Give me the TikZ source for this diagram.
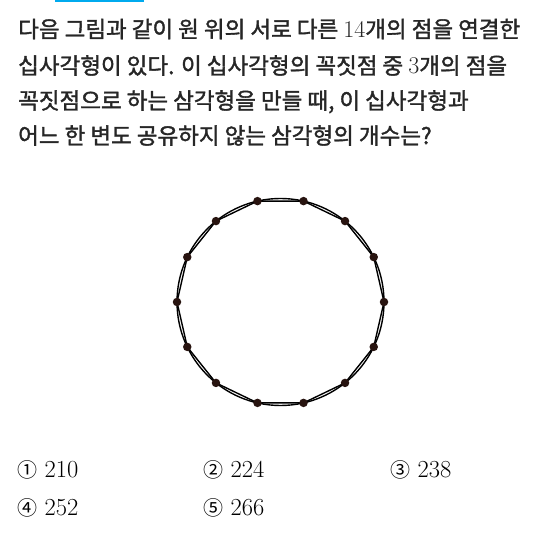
\documentclass[tikz,border=0pt]{standalone}
\usepackage{fontspec}
\usetikzlibrary{calc}
\newfontfamily\kr{Noto Sans CJK KR}
\newfontfamily\krm[FakeBold=1.6]{Noto Sans CJK KR}
\definecolor{barblue}{RGB}{0,170,238}
\definecolor{dotcol}{RGB}{40,20,16}
\tikzset{
  qline/.style={anchor=base west, inner sep=0pt, font=\krm\fontsize{22.5}{22.5}\selectfont, text=black!85},
  choice/.style={anchor=base west, inner sep=0pt, font=\fontsize{24.5}{24.5}\selectfont},
  vdot/.style={circle, fill=dotcol, inner sep=0pt, minimum size=8.5pt},
  edge/.style={line width=1.4pt, black},
}
\newcommand{\cnum}[1]{{\kr\fontsize{20}{20}\selectfont #1}}
\newcommand{\lmnum}[1]{{\rmfamily\mdseries\fontsize{24}{24}\selectfont #1}}
\begin{document}
\begin{tikzpicture}[x=1pt,y=-1pt]
\useasboundingbox (0,0) rectangle (560,537);
\fill[barblue] (55,0) rectangle (144,2.5);
\node[qline] (l1) at (18,37.5) {다음 그림과 같이 원 위의 서로 다른 \lmnum{14}개의 점을 연결한};
\node[qline] (l2) at (18,74) {십사각형이 있다. 이 십사각형의 꼭짓점 중 \lmnum{3}개의 점을};
\node[qline] (l3) at (18,109) {꼭짓점으로 하는 삼각형을 만들 때, 이 십사각형과};
\node[qline] (l4) at (18,144) {어느 한 변도 공유하지 않는 삼각형의 개수는?};
% circle and polygon
\coordinate (c) at (280.5,302);
\draw[edge] (c) circle[radius=103.5];
\foreach \k in {0,...,13} {
  \coordinate (p\k) at ($(c)+({90+360/28+\k*360/14}:103.5)$);
}
\draw[edge] (p0) \foreach \k in {1,...,13} { -- (p\k) } -- cycle;
\foreach \k in {0,...,13} { \node[vdot] (d\k) at (p\k) {}; }
% choices
\node[choice] (a1) at (17,477) {\cnum{①} 210};
\node[choice] (a2) at (203,477) {\cnum{②} 224};
\node[choice] (a3) at (390,477) {\cnum{③} 238};
\node[choice] (a4) at (17,515) {\cnum{④} 252};
\node[choice] (a5) at (203,515) {\cnum{⑤} 266};
\end{tikzpicture}
\end{document}
